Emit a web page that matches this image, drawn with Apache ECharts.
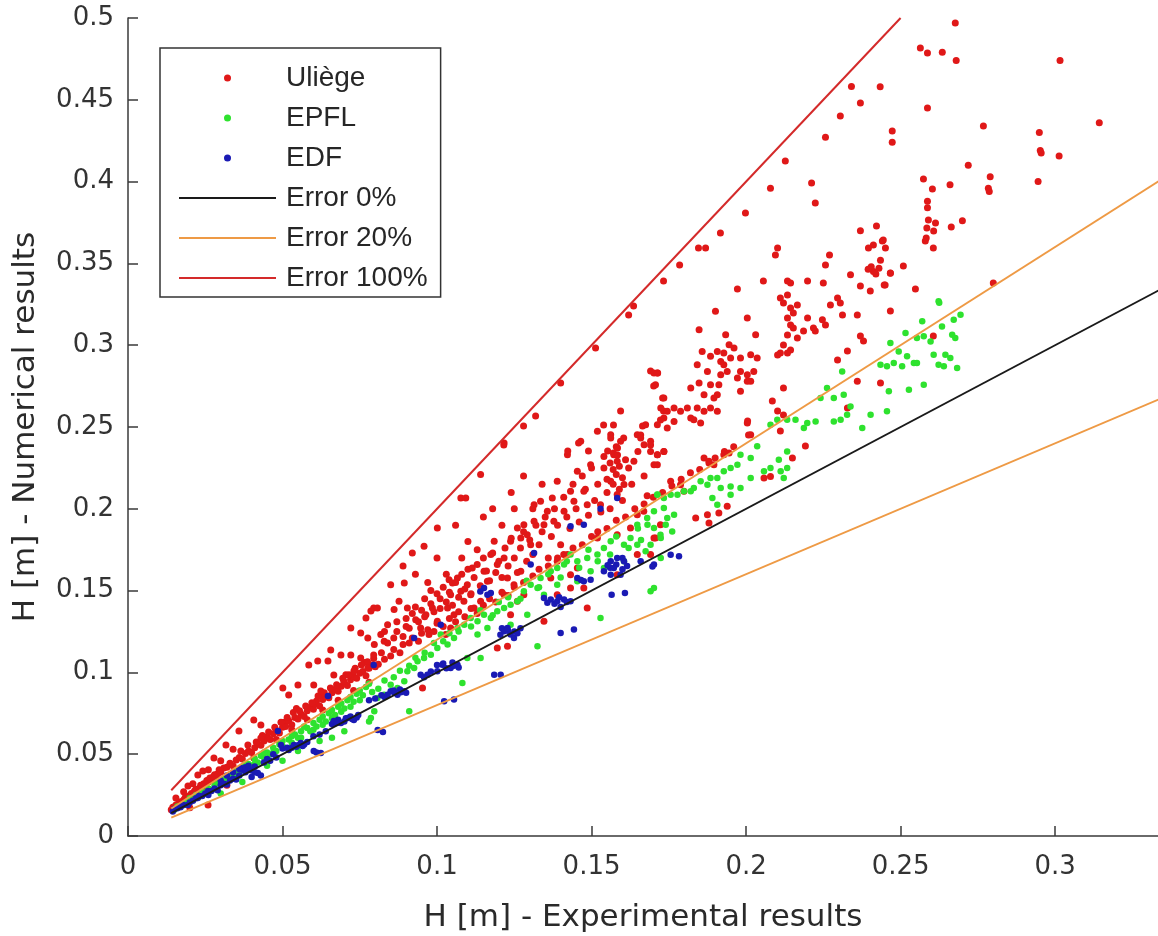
<!DOCTYPE html>
<html>
<head>
<meta charset="utf-8">
<script src="https://cdn.jsdelivr.net/npm/echarts@6/dist/echarts.min.js"></script>
<style>
html,body{margin:0;padding:0;background:#fff;}
#chart{width:1158px;height:936px;}
</style>
</head>
<body>
<div id="chart"></div>
<script>
// ---- tick labels ----
const xTicks = [0, 0.05, 0.1, 0.15, 0.2, 0.25, 0.3];
const yTicks = [0, 0.05, 0.1, 0.15, 0.2, 0.25, 0.3, 0.35, 0.4, 0.45, 0.5];
const xMax = 0.3333;

// ---- series names ----
const seriesNames = ['Uliège', 'EPFL', 'EDF', 'Error 0%', 'Error 20%', 'Error 100%'];

// ---- Uliège (red) ----
const uliege = [
[0.014,0.016],[0.0145,0.0175],[0.015,0.017],[0.0155,0.019],[0.016,0.018],[0.0165,0.0205],[0.017,0.021],[0.0175,0.0195],[0.018,0.022],[0.0185,0.0235],
[0.019,0.0215],[0.0195,0.0245],[0.02,0.024],[0.0205,0.026],[0.021,0.025],[0.0215,0.0275],[0.022,0.0285],[0.0225,0.026],[0.023,0.029],[0.0235,0.031],
[0.024,0.0295],[0.0245,0.032],[0.025,0.0315],[0.0255,0.034],[0.026,0.033],[0.0265,0.0355],[0.027,0.034],[0.0275,0.036],[0.028,0.0375],[0.0285,0.0355],
[0.029,0.038],[0.0295,0.0405],[0.03,0.039],[0.031,0.0415],[0.032,0.042],[0.033,0.0445],[0.034,0.043],[0.035,0.0465],[0.036,0.048],[0.037,0.047],
[0.038,0.0505],[0.039,0.052],[0.04,0.051],
[0.0155,0.0232],[0.0194,0.0306],[0.0226,0.0373],[0.0242,0.0397],[0.0278,0.0477],[0.0317,0.0556],[0.0359,0.0642],[0.0365,0.052],[0.0388,0.0556],[0.0407,0.0477],
[0.018,0.027],[0.021,0.032],[0.026,0.0405],[0.03,0.046],[0.034,0.053],[0.0259,0.019],[0.02,0.0172],[0.032,0.031],
[0.041,0.054],[0.042,0.0565],[0.043,0.0555],[0.044,0.058],[0.045,0.0605],[0.046,0.059],[0.047,0.0625],[0.048,0.0645],[0.049,0.063],[0.05,0.0665],
[0.0505,0.0695],[0.051,0.067],[0.052,0.0705],[0.053,0.068],[0.054,0.0725],[0.055,0.0715],[0.056,0.0745],[0.057,0.073],[0.058,0.0765],[0.059,0.0785],
[0.06,0.0775],[0.0605,0.0805],[0.061,0.0825],[0.062,0.0795],[0.063,0.0835],[0.064,0.0855],[0.065,0.0845],[0.066,0.0875],[0.067,0.0895],[0.068,0.0885],
[0.069,0.0915],[0.07,0.0935],[0.071,0.092],[0.072,0.0955],[0.073,0.0975],[0.074,0.0965],[0.075,0.0995],[0.076,0.1005],[0.077,0.098],[0.078,0.1025],
[0.079,0.1045],[0.08,0.1035],[0.0545,0.078],[0.0625,0.0865],[0.0705,0.0985],[0.0765,0.106],
[0.0415,0.0575],[0.0435,0.0615],[0.0455,0.0635],[0.0475,0.0665],[0.0495,0.0695],[0.0515,0.0725],[0.0535,0.0755],[0.0555,0.0765],[0.0575,0.0795],[0.0595,0.0815],
[0.0615,0.0855],[0.0635,0.0875],[0.0655,0.0905],[0.0675,0.0925],[0.0695,0.0965],[0.0715,0.0985],[0.0735,0.1025],[0.0755,0.1045],[0.0775,0.1065],[0.0795,0.1085],
[0.048,0.059],[0.053,0.065],[0.058,0.071],[0.063,0.077],[0.068,0.083],[0.073,0.089],[0.078,0.094],
[0.0601,0.0923],[0.0624,0.0886],[0.0666,0.0984],[0.0698,0.0947],[0.0731,0.1009],[0.0753,0.1088],[0.0795,0.1106],[0.0776,0.1027],
[0.0501,0.0905],[0.052,0.0862],[0.055,0.0923],[0.0585,0.1045],[0.0614,0.107],[0.0656,0.1137],[0.0647,0.107],[0.0689,0.1106],[0.0721,0.1106],
[0.0721,0.1271],[0.0753,0.1241],[0.0776,0.121],[0.077,0.1333],[0.0786,0.1375],[0.0795,0.1394],[0.043,0.0679],[0.0407,0.0709],[0.043,0.0599],
[0.1141,0.2209],[0.1217,0.2402],[0.1077,0.2066],[0.1093,0.2066],[0.1001,0.1883],[0.0958,0.1771],[0.092,0.173],[0.0894,0.1547],[0.085,0.1536],[0.0807,0.1394],
[0.0877,0.1435],[0.0861,0.1384],[0.0904,0.1394],[0.084,0.1292],[0.0818,0.1231],[0.0797,0.117],[0.0829,0.119],
[0.0931,0.1322],[0.0964,0.1353],[0.0947,0.1272],[0.0985,0.1394],[0.0974,0.1231],[0.1001,0.1312],[0.1034,0.1394],[0.1044,0.1272],[0.1055,0.1353],[0.1028,0.1231],
[0.1039,0.1567],[0.105,0.1547],[0.1066,0.1577],[0.1044,0.1475],[0.1077,0.1496],[0.1098,0.1536],[0.1109,0.1475],[0.1087,0.1435],[0.112,0.1394],[0.1141,0.1435],
[0.1114,0.1638],[0.1152,0.1618],[0.1163,0.1557],[0.1174,0.172],[0.1195,0.1659],[0.1217,0.1699],[0.1185,0.1801],[0.1238,0.1801],[0.126,0.1883],[0.1281,0.1903],
[0.1271,0.1822],[0.1292,0.1842],[0.1303,0.1781],[0.1228,0.1577],[0.1249,0.1536],[0.1271,0.1618],[0.1217,0.1475],[0.126,0.1435],[0.1281,0.1475],[0.1238,0.1353],
[0.082,0.112],[0.084,0.118],[0.086,0.121],[0.087,0.125],[0.089,0.122],[0.09,0.133],[0.091,0.127],[0.092,0.136],[0.094,0.131],[0.095,0.138],
[0.096,0.134],[0.098,0.142],[0.099,0.137],[0.1,0.148],[0.101,0.139],[0.102,0.152],[0.103,0.143],[0.104,0.149],[0.105,0.141],[0.106,0.155],
[0.107,0.146],[0.108,0.16],[0.109,0.151],[0.11,0.163],[0.111,0.148],[0.112,0.158],[0.113,0.166],[0.114,0.153],[0.115,0.17],[0.116,0.162],
[0.117,0.156],[0.118,0.173],[0.119,0.161],[0.12,0.168],[0.121,0.158],[0.122,0.176],[0.123,0.165],[0.124,0.182],[0.125,0.17],[0.126,0.161],
[0.127,0.176],[0.128,0.186],[0.129,0.168],[0.13,0.181],[0.131,0.172],[0.132,0.19],[0.133,0.178],[0.134,0.186],[0.135,0.195],[0.136,0.17],
[0.137,0.183],[0.138,0.2],[0.139,0.19],[0.14,0.178],[0.141,0.207],[0.142,0.195],[0.143,0.188],[0.144,0.215],[0.145,0.2],[0.146,0.192],
[0.147,0.22],[0.148,0.212],[0.149,0.196],[0.15,0.225],[0.151,0.205],[0.152,0.215],[0.153,0.198],[0.154,0.232],[0.155,0.21],[0.156,0.2],
[0.158,0.238],[0.16,0.205],[0.162,0.225],[0.163,0.215],[0.165,0.235],[0.167,0.22],[0.168,0.208],
[0.125,0.152],[0.128,0.155],[0.131,0.159],[0.133,0.163],[0.136,0.165],[0.139,0.17],[0.141,0.172],[0.144,0.176],[0.147,0.178],[0.15,0.183],
[0.152,0.186],[0.155,0.188],[0.158,0.193],[0.161,0.195],[0.164,0.2],[0.167,0.203],[0.17,0.207],[0.173,0.21],[0.176,0.214],[0.179,0.218],
[0.182,0.222],[0.185,0.224],[0.188,0.228],[0.19,0.231],[0.193,0.235],[0.196,0.238],
[0.1314,0.2025],[0.1335,0.2046],[0.1357,0.1985],[0.1373,0.2066],[0.1389,0.2168],[0.1314,0.1924],[0.1346,0.1903],[0.1378,0.1924],[0.1411,0.1985],[0.1422,0.2331],
[0.1432,0.2107],[0.1443,0.2046],[0.1454,0.2229],[0.1475,0.2107],[0.1486,0.2025],[0.1497,0.227],[0.154,0.225],[0.1562,0.2168],[0.1572,0.2331],[0.1583,0.229],
[0.1594,0.2413],[0.1605,0.2148],[0.1637,0.229],[0.1648,0.2453],[0.1691,0.2413],[0.1713,0.2331],[0.1734,0.2351],[0.1465,0.2413],[0.1519,0.2474],[0.1562,0.2453],
[0.1583,0.2087],[0.1529,0.2025],[0.1713,0.227],
[0.1389,0.1679],[0.1422,0.172],[0.1432,0.1597],[0.1368,0.1577],[0.1454,0.1638],[0.1519,0.1822],[0.1583,0.1842],[0.1626,0.1883],[0.1648,0.1964],[0.1669,0.1985],
[0.1702,0.1822],[0.1723,0.1903],[0.1346,0.1312],[0.1389,0.1475],[0.1432,0.1516],[0.1475,0.1516],[0.1486,0.1394],[0.1583,0.1597],[0.1648,0.172],[0.1691,0.172],
[0.1195,0.1149],[0.1228,0.116],[0.0953,0.0905],
[0.081,0.105],[0.083,0.108],[0.085,0.11],[0.086,0.114],[0.088,0.112],[0.089,0.117],[0.091,0.118],[0.092,0.121],[0.094,0.119],[0.095,0.124],
[0.097,0.126],[0.099,0.125],[0.1,0.13],[0.102,0.128],[0.104,0.133],[0.106,0.131],[0.107,0.137],[0.109,0.134],[0.111,0.139],[0.113,0.136],
[0.115,0.141],[0.117,0.145],[0.119,0.143],[0.121,0.149],[0.123,0.147],
[0.083,0.125],[0.087,0.131],[0.09,0.128],[0.093,0.14],[0.096,0.145],[0.098,0.15],[0.101,0.145],[0.103,0.16],[0.093,0.16],[0.089,0.165],
[0.1,0.17],[0.097,0.155],[0.108,0.17],[0.11,0.18],[0.113,0.175],[0.106,0.19],[0.115,0.195],[0.118,0.2],[0.121,0.19],[0.124,0.21],
[0.128,0.22],[0.131,0.2],[0.134,0.215],[0.125,0.2],
[0.1733,0.3392],[0.1636,0.324],[0.162,0.3185],[0.1513,0.2983],[0.14,0.2769],[0.1319,0.2567],[0.128,0.2506],[0.1216,0.239],
[0.1701,0.2751],[0.173,0.2677],[0.1733,0.2598],[0.1723,0.2543],[0.1594,0.2598],[0.1571,0.2512],[0.1562,0.2433],[0.1539,0.2512],[0.1458,0.2402],[0.1423,0.2353],
[0.149,0.2353],[0.1604,0.2433],[0.1665,0.2506],[0.1659,0.2451],[0.1691,0.239],[0.1584,0.2372],[0.1552,0.2353],[0.1571,0.2341],[0.1584,0.2329],[0.1691,0.2842],
[0.1714,0.283],[0.156,0.228],[0.157,0.224],[0.158,0.221],[0.159,0.226],[0.16,0.219],[0.157,0.215],[0.159,0.212],[0.161,0.23],[0.155,0.218],
[0.1702,0.283],[0.1713,0.283],[0.1707,0.2759],[0.1734,0.2677],[0.1724,0.2616],[0.1745,0.2596],[0.1767,0.2616],[0.1788,0.2596],[0.181,0.2616],[0.1821,0.2555],
[0.1842,0.2616],[0.1853,0.2524],[0.1864,0.2596],[0.1885,0.2616],[0.1907,0.2596],[0.1767,0.2534],[0.1734,0.2555],[0.1713,0.2514],[0.1745,0.2494],[0.1831,0.2545],
[0.1864,0.2697],[0.1821,0.2738],[0.1848,0.2769],[0.1885,0.2759],[0.1912,0.2759],[0.1907,0.2697],[0.1896,0.2677],[0.1918,0.2901],[0.1928,0.2881],[0.1939,0.284],
[0.1918,0.282],[0.195,0.2922],[0.1945,0.3003],[0.1961,0.2983],[0.1928,0.2952],[0.1907,0.2962],[0.1858,0.2962],[0.1842,0.2881],[0.1885,0.2932],[0.1875,0.284],
[0.1982,0.2922],[0.1982,0.284],[0.1972,0.2799],[0.2004,0.282],[0.2015,0.2779],[0.2025,0.284],[0.2036,0.2922],[0.2015,0.2942],[0.1901,0.3207],[0.1848,0.3095],
[0.1934,0.3064],[0.2004,0.3166],[0.2031,0.3064],[0.1982,0.2718],[0.2004,0.2779],[0.1675,0.2514],[0.1659,0.2433],[0.167,0.2392],[0.1691,0.2351],[0.1713,0.2331],
[0.1702,0.227],[0.1734,0.2351],[0.1864,0.231],[0.188,0.229],[0.1896,0.227],[0.1928,0.2331],[0.1945,0.2341],[0.1756,0.2168],[0.1788,0.2147],[0.1799,0.2107],
[0.1837,0.1944],[0.1875,0.1964],[0.188,0.1913],[0.1939,0.2015],[0.2004,0.2524],[0.2015,0.2453],[0.2058,0.2188],[0.2079,0.2198],[0.1707,0.1821],[0.1912,0.1974],
[0.2102,0.3594],[0.2095,0.3551],[0.1846,0.3594],[0.1869,0.3594],[0.1785,0.349],[0.1972,0.3343],[0.2056,0.3392],[0.2257,0.349],[0.227,0.3551],[0.2412,0.3612],
[0.2441,0.3637],[0.2451,0.3594],[0.2338,0.343],[0.237,0.3362],[0.2402,0.3331],[0.245,0.3368],[0.2467,0.3441],[0.2509,0.3484],[0.2606,0.3594],[0.258,0.3637],
[0.2548,0.3343],
[0.2134,0.3392],[0.2144,0.338],[0.2134,0.3307],[0.2111,0.3289],[0.2121,0.3258],[0.2166,0.3246],[0.2144,0.3227],[0.2153,0.3197],[0.2134,0.3166],[0.2144,0.3124],
[0.2153,0.3105],[0.2134,0.3062],[0.2121,0.3001],[0.2111,0.2952],[0.2144,0.2971],[0.2166,0.3044],[0.2186,0.3087],[0.2199,0.3166],[0.2218,0.3105],[0.2102,0.294],
[0.2134,0.2952],[0.2199,0.3392],[0.225,0.338],[0.2296,0.3289],[0.2305,0.3258],[0.2312,0.3185],[0.2273,0.3246],[0.2257,0.3124],[0.2224,0.3087],[0.2247,0.3155],
[0.236,0.3185],[0.237,0.3056],[0.238,0.3026],[0.2467,0.3209],[0.2606,0.3056],[0.2296,0.291],[0.2328,0.2964],[0.236,0.278],[0.2435,0.2769],[0.2121,0.2738],
[0.2085,0.2659],[0.2102,0.2598],[0.2121,0.2573],[0.2005,0.2537],[0.2008,0.2451],[0.2111,0.2476],[0.2192,0.2384],[0.215,0.231],[0.2328,0.2616],
[0.2412,0.345],[0.2405,0.348],[0.242,0.3435],[0.2395,0.3465],[0.243,0.347],[0.2422,0.3729],[0.2444,0.3643],[0.2396,0.3594],[0.2435,0.352],[0.237,0.370],
[0.2447,0.3368],[0.2467,0.344],
[0.2677,0.497],[0.2564,0.4817],[0.2587,0.4786],[0.2635,0.479],[0.268,0.474],[0.3016,0.474],[0.2434,0.458],[0.237,0.448],[0.2587,0.445],[0.2473,0.431],
[0.2473,0.424],[0.2768,0.434],[0.2949,0.43],[0.3143,0.436],[0.2952,0.419],[0.2955,0.4175],[0.3013,0.4156],[0.2945,0.4],[0.2719,0.41],[0.279,0.403],
[0.2784,0.396],[0.2787,0.394],[0.2574,0.4016],[0.2603,0.3955],[0.266,0.398],[0.2587,0.388],[0.2587,0.384],[0.259,0.3765],[0.2613,0.3747],[0.2585,0.3716],
[0.2607,0.3698],[0.2583,0.3655],[0.2664,0.3722],[0.27,0.376],[0.28,0.338],
[0.1917,0.3686],[0.1998,0.3808],[0.2079,0.396],[0.2127,0.4126],[0.2224,0.3869],[0.2257,0.4271],[0.2305,0.4401],[0.2341,0.4582],[0.2212,0.3992]
];

// ---- EPFL (green) ----
const epfl = [
[0.015,0.016],[0.016,0.018],[0.018,0.019],[0.019,0.021],[0.02,0.023],[0.021,0.022],[0.022,0.025],[0.023,0.024],[0.024,0.027],[0.025,0.026],
[0.026,0.029],[0.027,0.028],[0.028,0.031],[0.029,0.033],[0.03,0.032],[0.031,0.035],[0.032,0.034],[0.033,0.037],[0.034,0.036],[0.035,0.04],
[0.036,0.038],[0.037,0.042],[0.038,0.041],[0.039,0.044],[0.04,0.043],[0.041,0.047],[0.042,0.045],[0.043,0.049],[0.044,0.048],[0.045,0.051],
[0.046,0.05],[0.047,0.054],[0.048,0.052],[0.049,0.056],[0.05,0.055],[0.052,0.059],[0.053,0.057],[0.054,0.062],[0.055,0.06],[0.056,0.064],
[0.058,0.066],[0.059,0.064],[0.06,0.069],[0.061,0.067],[0.062,0.071],[0.063,0.073],[0.064,0.07],[0.065,0.075],[0.066,0.077],[0.067,0.074],
[0.068,0.079],[0.069,0.081],[0.07,0.078],[0.071,0.083],[0.072,0.085],[0.073,0.082],[0.074,0.087],[0.075,0.089],[0.076,0.086],[0.077,0.091],[0.078,0.093],
[0.03,0.026],[0.037,0.033],[0.045,0.043],[0.05,0.046],[0.055,0.052],[0.062,0.058],[0.07,0.064],[0.078,0.07],[0.066,0.06],
[0.035,0.037],[0.038,0.044],[0.041,0.044],[0.044,0.051],[0.047,0.051],[0.05,0.058],[0.053,0.061],[0.056,0.06],[0.057,0.067],[0.06,0.065],
[0.063,0.068],[0.066,0.072],[0.069,0.076],[0.072,0.079],[0.075,0.083],[0.079,0.088],[0.081,0.09],[0.083,0.095],[0.086,0.097],[0.088,0.101],
[0.091,0.104],[0.093,0.109],[0.096,0.112],[0.099,0.118],[0.102,0.119],[0.104,0.124],[0.107,0.125],[0.111,0.128],[0.114,0.138],[0.118,0.135],
[0.12,0.143],[0.123,0.146],[0.127,0.145],[0.129,0.156],[0.133,0.152],[0.136,0.16],[0.14,0.158],[0.142,0.168],[0.146,0.164],[0.149,0.175],
[0.152,0.168],[0.156,0.172],[0.158,0.183],[0.162,0.176],[0.165,0.188],[0.166,0.181],
[0.1713,0.2087],[0.1734,0.2005],[0.168,0.1944],[0.1648,0.1903],[0.1702,0.1883],[0.1723,0.1842],[0.1626,0.1822],[0.1605,0.1781],[0.1562,0.1801],[0.154,0.1761],
[0.1519,0.172],[0.1486,0.1699],[0.1454,0.1679],[0.1432,0.172],[0.1411,0.1659],[0.1389,0.1638],[0.1368,0.1618],[0.1335,0.1577],[0.1325,0.1516],[0.1303,0.1536],
[0.1281,0.1496],[0.126,0.1435],[0.1238,0.1414],[0.1217,0.1394],[0.1195,0.1374],[0.1174,0.1333],[0.1152,0.1353],[0.1131,0.1312],[0.1109,0.1333],[0.1088,0.1292],
[0.1066,0.1272],[0.1055,0.121],[0.1034,0.117],[0.1012,0.1231],[0.1001,0.1149],[0.098,0.1108],[0.0958,0.1088],[0.0937,0.1068],[0.0926,0.1027],[0.0904,0.1007],
[0.0894,0.0946],[0.0872,0.0905],[0.085,0.0925],[0.0829,0.0864],[0.0807,0.0844],[0.0797,0.0762],[0.0786,0.0721],[0.1691,0.1496],[0.1529,0.1333],[0.1325,0.116],
[0.1141,0.1088],[0.1082,0.0935],[0.091,0.0762],[0.1098,0.1088],[0.1131,0.1231],[0.1163,0.1272],[0.1238,0.1292],[0.1292,0.1353],[0.1346,0.1475],[0.1389,0.1536],
[0.1454,0.1557],[0.1497,0.1618],[0.154,0.1638],[0.1605,0.1679],[0.1648,0.1781],[0.1702,0.1985],
[0.2623,0.3268],[0.2694,0.3186],[0.2672,0.3156],[0.2634,0.3115],[0.2667,0.3064],[0.2677,0.3044],[0.257,0.3146],[0.2516,0.3074],[0.2553,0.3044],[0.2575,0.3054],
[0.2597,0.3023],[0.2467,0.3013],[0.2494,0.2962],[0.2521,0.2932],[0.2543,0.2891],[0.2478,0.2891],[0.2435,0.2881],[0.2456,0.2871],[0.2505,0.2871],[0.2553,0.2891],
[0.2607,0.2942],[0.2623,0.2881],[0.2645,0.2942],[0.2661,0.2922],[0.2683,0.286],[0.264,0.2871],[0.2462,0.2718],[0.2527,0.2728],[0.2575,0.2759],[0.2456,0.2596],
[0.2403,0.2575],[0.2376,0.2494],[0.2262,0.2738],[0.2284,0.2677],[0.2316,0.2697],[0.2338,0.2626],[0.2327,0.2575],[0.2306,0.2545],[0.2284,0.2534],[0.2241,0.2677],
[0.2225,0.2534],[0.2198,0.2524],[0.2187,0.2494],[0.216,0.2545],[0.2133,0.2545],[0.2311,0.284],[0.2079,0.2514],[0.2101,0.2545],[0.2036,0.2382],[0.2015,0.231],
[0.1982,0.2331],[0.1972,0.227],[0.195,0.2249],[0.1928,0.2229],[0.1907,0.2188],[0.1885,0.2188],[0.1875,0.2147],[0.1853,0.2168],[0.1831,0.2127],[0.1821,0.2107],
[0.1799,0.2107],[0.1778,0.2086],[0.1756,0.2086],[0.1734,0.2066],[0.1713,0.2086],[0.1918,0.2127],[0.195,0.2137],[0.1982,0.2127],[0.2015,0.2188],[0.2058,0.2229],
[0.2079,0.2249],[0.2112,0.2229],[0.2133,0.2249],[0.2122,0.2188],[0.2106,0.23],[0.2133,0.2351],[0.195,0.2086],[0.1907,0.2025],[0.1891,0.2066],[0.1767,0.1964],
[0.1745,0.1944],[0.174,0.1903],[0.1761,0.1862],[0.1724,0.1821],[0.1691,0.1781],[0.1675,0.174],[0.1702,0.1516],[0.1724,0.1699],[0.1681,0.1903],[0.2625,0.326]
];

// ---- EDF (blue) ----
const edf = [
[0.0145,0.015],[0.015,0.0165],[0.016,0.017],[0.017,0.0175],[0.0171,0.0183],[0.018,0.019],[0.0194,0.019],[0.02,0.0205],[0.021,0.0215],[0.022,0.023],
[0.0226,0.0232],[0.023,0.0245],[0.024,0.0245],[0.025,0.026],[0.0259,0.0275],[0.026,0.025],[0.027,0.0275],[0.028,0.029],[0.029,0.028],[0.03,0.031],
[0.031,0.032],[0.032,0.0315],[0.033,0.034],[0.034,0.035],[0.035,0.0345],[0.036,0.037],[0.0365,0.0416],[0.037,0.0405],[0.038,0.042],[0.039,0.041],
[0.04,0.04],[0.041,0.0425],[0.042,0.0385],[0.043,0.037],[0.04,0.036],
[0.03,0.034],[0.032,0.037],[0.034,0.039],[0.036,0.041],[0.038,0.039],[0.039,0.043],[0.041,0.039],[0.045,0.047],[0.047,0.05],[0.05,0.0535],
[0.053,0.054],[0.055,0.0555],[0.0565,0.055],[0.061,0.051],[0.066,0.0685],[0.068,0.071],[0.0705,0.072],[0.0725,0.0715],[0.074,0.0725],[0.078,0.083],
[0.08,0.084],[0.082,0.086],[0.083,0.085],[0.086,0.089],[0.088,0.0895],[0.09,0.0875],[0.098,0.1005],[0.1,0.1045],[0.102,0.1055],[0.105,0.106],
[0.107,0.103],[0.121,0.127],[0.123,0.1255],[0.125,0.125],[0.127,0.127],[0.138,0.142],[0.14,0.14],[0.142,0.143],[0.156,0.164],[0.158,0.166],
[0.16,0.163],[0.16,0.17],
[0.0495,0.0556],[0.0537,0.0556],[0.0559,0.0568],[0.0515,0.054],[0.052,0.0525],[0.0545,0.0545],[0.057,0.056],[0.058,0.0575],[0.0601,0.052],[0.0624,0.0507],
[0.0666,0.0703],[0.0711,0.0721],[0.0731,0.0709],[0.0689,0.0691],[0.0675,0.069],[0.07,0.07],[0.072,0.073],[0.0745,0.074],[0.0795,0.1045],[0.0647,0.0856],
[0.0485,0.0642],[0.0808,0.0648],[0.0825,0.0635],[0.046,0.046],[0.048,0.048],[0.044,0.045],[0.062,0.062],[0.064,0.064],[0.06,0.061],
[0.085,0.0885],[0.0872,0.0864],[0.0894,0.0885],[0.084,0.0864],[0.0862,0.0875],[0.0883,0.0878],[0.0947,0.0986],[0.0969,0.0986],[0.0958,0.097],[0.1001,0.1007],
[0.1017,0.1047],[0.1044,0.1027],[0.1066,0.1047],[0.1055,0.104],[0.103,0.1025],[0.1185,0.0986],[0.1206,0.0986],[0.1023,0.0823],[0.1055,0.0834],[0.0926,0.121],
[0.1012,0.1292],[0.1152,0.1516],[0.1174,0.1485],[0.1163,0.1475],[0.114,0.1495],
[0.1217,0.1252],[0.1238,0.1231],[0.1249,0.1211],[0.1228,0.1272],[0.1205,0.123],[0.126,0.124],[0.14,0.1241],[0.1443,0.1262],
[0.1346,0.1455],[0.1368,0.1445],[0.1389,0.1435],[0.1411,0.1445],[0.1432,0.1435],[0.1357,0.1425],[0.1395,0.146],
[0.1454,0.1577],[0.1475,0.1557],[0.1497,0.1567],[0.1466,0.1565],
[0.1562,0.1679],[0.1583,0.1699],[0.1605,0.1679],[0.1572,0.1638],[0.154,0.1618],[0.1594,0.1597],[0.1562,0.1597],[0.1552,0.1655],[0.1615,0.165],
[0.1565,0.1475],[0.1608,0.1485],[0.1702,0.1659],[0.1314,0.173],[0.1303,0.1659],[0.1529,0.2],[0.1432,0.1893],[0.1475,0.1903],[0.1583,0.2066],[0.1697,0.1648],
[0.1756,0.1719],[0.1783,0.171],[0.1659,0.1679]
];

// ---- reference error lines (end points) ----
const error0 = [[0.014, 0.014], [0.34, 0.34]];
const error20up = [[0.014, 0.0168], [0.34, 0.408]];
const error20low = [[0.014, 0.0112], [0.34, 0.272]];
const error100 = [[0.014, 0.028], [0.25, 0.5]];

const chart = echarts.init(document.getElementById('chart'), null, {renderer: 'canvas'});

function tickLabel(list) {
  return function (v) {
    for (const t of list) { if (Math.abs(t - v) < 1e-9) return String(t); }
    return '';
  };
}

const axisCommon = {
  type: 'value',
  interval: 0.05,
  splitLine: {show: false},
  axisLine: {show: true, onZero: false, lineStyle: {color: '#3a3a3a', width: 1.5}},
  axisTick: {show: true, inside: true, length: 10, lineStyle: {color: '#3a3a3a', width: 1.5}},
  nameLocation: 'middle',
  nameTextStyle: {fontFamily: 'DejaVu Sans', fontSize: 31, color: '#2a2a2a'}
};

const option = {
  animation: false,
  backgroundColor: '#ffffff',
  grid: {left: 128, top: 18, width: 1030, height: 818, containLabel: false, outerBoundsMode: 'none'},
  xAxis: Object.assign({}, axisCommon, {
    min: xTicks[0], max: xMax,
    name: 'H [m] - Experimental results',
    nameGap: 66,
    axisLabel: {formatter: tickLabel(xTicks), margin: 18, fontFamily: 'DejaVu Sans', fontSize: 26, color: '#333333', showMaxLabel: false}
  }),
  yAxis: Object.assign({}, axisCommon, {
    min: yTicks[0], max: yTicks[yTicks.length - 1],
    name: 'H [m] - Numerical results',
    nameGap: 87,
    axisLabel: {formatter: tickLabel(yTicks), margin: 14, fontFamily: 'DejaVu Sans', fontSize: 26, color: '#333333'}
  }),
  legend: {
    orient: 'vertical',
    left: 160, top: 48,
    padding: [15, 13, 4, 18],
    itemWidth: 97, itemHeight: 7, itemGap: 10,
    borderColor: '#333333', borderWidth: 1.5,
    backgroundColor: '#ffffff',
    textStyle: {fontFamily: 'Liberation Sans', fontSize: 28, color: '#262626', lineHeight: 30, padding: [0, 0, 0, 5]},
    data: [
      seriesNames[0], seriesNames[1], seriesNames[2],
      {name: seriesNames[3], itemStyle: {opacity: 0}},
      {name: seriesNames[4], itemStyle: {opacity: 0}},
      {name: seriesNames[5], itemStyle: {opacity: 0}}
    ]
  },
  series: [
    {name: seriesNames[0], type: 'scatter', data: uliege, symbolSize: 7, itemStyle: {color: '#e01818', opacity: 1}, z: 2},
    {name: seriesNames[1], type: 'scatter', data: epfl, symbolSize: 6.5, itemStyle: {color: '#2ee22e', opacity: 1}, z: 2},
    {name: seriesNames[2], type: 'scatter', data: edf, symbolSize: 6.5, itemStyle: {color: '#1a1ab4', opacity: 1}, z: 2},
    {name: seriesNames[3], type: 'line', data: error0, symbol: 'none', lineStyle: {color: '#1a1a1a', width: 1.8}, itemStyle: {color: '#1a1a1a'}, z: 3},
    {name: seriesNames[4], type: 'line', data: error20up, symbol: 'none', lineStyle: {color: '#ee9a45', width: 2}, itemStyle: {color: '#ee9a45'}, z: 3},
    {name: seriesNames[4], type: 'line', data: error20low, symbol: 'none', lineStyle: {color: '#ee9a45', width: 2}, itemStyle: {color: '#ee9a45'}, z: 3},
    {name: seriesNames[5], type: 'line', data: error100, symbol: 'none', lineStyle: {color: '#d42a2a', width: 2}, itemStyle: {color: '#d42a2a'}, z: 3}
  ]
};
chart.setOption(option);
</script>
</body>
</html>
